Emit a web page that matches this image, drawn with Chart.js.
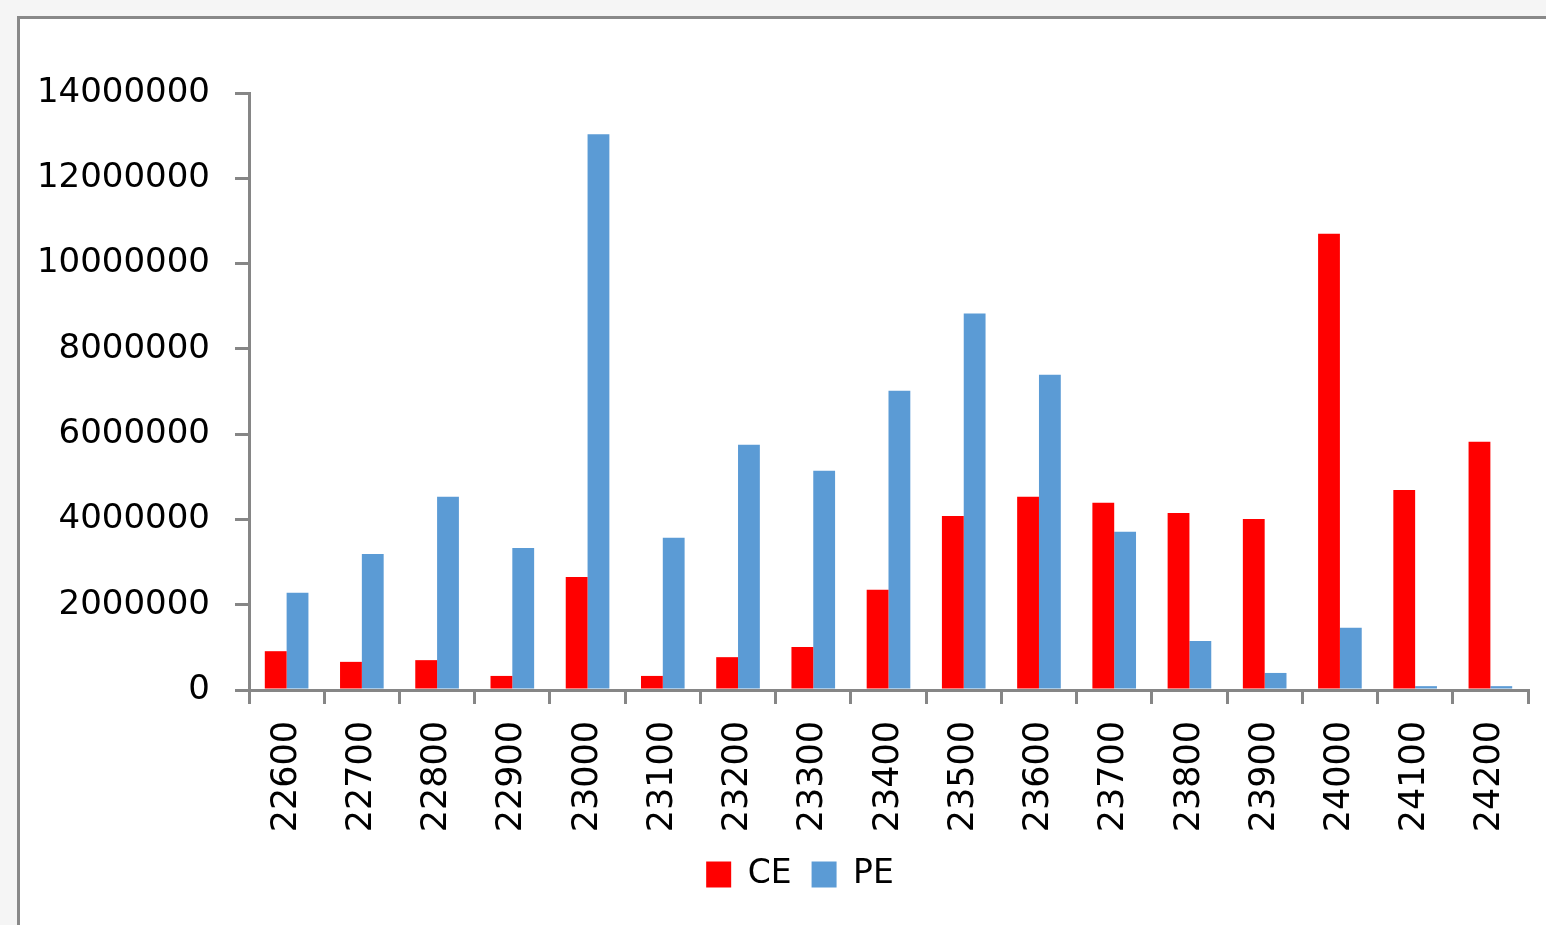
<!DOCTYPE html>
<html>
<head>
<meta charset="utf-8">
<title>CE / PE</title>
<script src="https://cdn.jsdelivr.net/npm/chart.js@4/dist/chart.umd.min.js"></script>
<style>
    html, body { margin: 0; padding: 0; }
    body {
        width: 1546px;
        height: 925px;
        overflow: hidden;
        position: relative;
        background: #f5f5f5;
    }
    /* 엑셀 차트 테두리 */
    #frame {
        position: absolute;
        left: 17px;
        top: 16px;
        width: 1600px;
        height: 960px;
        border: 3px solid #898989;
        background: #ffffff;
    }
    #chart {
        position: absolute;
        left: 0;
        top: 0;
    }
</style>
</head>
<body>
<div id="frame"></div>
<canvas id="chart" width="1600" height="925"></canvas>
<script>
/* ---- 데이터 ---- */
var strikes = ['22600', '22700', '22800', '22900', '23000', '23100', '23200', '23300', '23400',
               '23500', '23600', '23700', '23800', '23900', '24000', '24100', '24200'];
var ceValues = [910000, 660000, 700000, 330000, 2650000, 330000, 770000, 1010000, 2350000,
                4080000, 4530000, 4390000, 4150000, 4010000, 10700000, 4690000, 5820000];
var peValues = [2280000, 3190000, 4530000, 3330000, 13030000, 3570000, 5750000, 5140000, 7020000,
                8830000, 7390000, 3710000, 1150000, 400000, 1460000, 90000, 90000];
var yMax = 14000000;
var yStep = 2000000;

(function() {
    'use strict';

    var FONT = "'DejaVu Sans', Verdana, sans-serif";
    var AXIS = '#868686';

    var canvas = document.getElementById('chart');
    if (!canvas || typeof Chart === 'undefined') return;

    /* 범례를 테두리 기준 가운데로 옮김 (엑셀처럼 차트 전체 폭 기준) */
    var legendNudge = {
        id: 'legendNudge',
        afterLayout: function(chart) {
            var legend = chart.legend;
            if (!legend) return;
            legend.left += 21;
            legend.right += 21;
        }
    };

    new Chart(canvas, {
        type: 'bar',
        data: {
            labels: strikes,
            datasets: [
                {
                    label: 'CE',
                    data: ceValues,
                    backgroundColor: '#ff0000',
                    borderWidth: 0
                },
                {
                    label: 'PE',
                    data: peValues,
                    backgroundColor: '#5b9bd5',
                    borderWidth: 0
                }
            ]
        },
        options: {
            responsive: false,
            animation: false,
            datasets: {
                bar: { categoryPercentage: 0.58, barPercentage: 1 }
            },
            layout: {
                padding: { left: 30, right: 72, top: 93, bottom: 24 }
            },
            plugins: {
                tooltip: { enabled: false },
                legend: {
                    display: true,
                    position: 'bottom',
                    labels: {
                        boxWidth: 25,
                        boxHeight: 26,
                        padding: 20,
                        color: '#000000',
                        font: { size: 33, family: FONT }
                    }
                }
            },
            scales: {
                x: {
                    grid: {
                        offset: true,
                        drawOnChartArea: false,
                        color: AXIS,
                        lineWidth: 3,
                        tickLength: 14
                    },
                    border: { color: AXIS, width: 3 },
                    ticks: {
                        autoSkip: false,
                        minRotation: 90,
                        maxRotation: 90,
                        padding: 17,
                        color: '#000000',
                        font: { size: 35, family: FONT }
                    },
                    afterFit: function(scale) { scale.height = 148; }
                },
                y: {
                    min: 0,
                    max: yMax,
                    grid: {
                        drawOnChartArea: false,
                        color: AXIS,
                        lineWidth: 3,
                        tickLength: 14
                    },
                    border: { color: AXIS, width: 3 },
                    ticks: {
                        stepSize: yStep,
                        padding: 25,
                        color: '#000000',
                        font: { size: 34, family: FONT },
                        /* 천 단위 구분기호 없이 표시 */
                        callback: function(value) { return String(value); }
                    },
                    afterFit: function(scale) { scale.width = 219; }
                }
            }
        },
        plugins: [legendNudge]
    });
})();
</script>
</body>
</html>
